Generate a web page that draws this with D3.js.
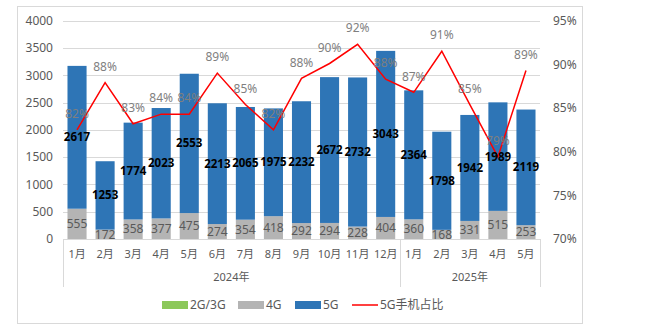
<!DOCTYPE html>
<html><head><meta charset="utf-8">
<script src="https://cdn.jsdelivr.net/npm/d3@7"></script>
<style>
body{margin:0;background:#fff;}
text{font-family:"Noto Sans","Noto Sans CJK SC",sans-serif;}
</style>
</head><body>
<svg id="c" width="659" height="331"></svg>
<script>
const months = ["1月","2月","3月","4月","5月","6月","7月","8月","9月","10月","11月","12月","1月","2月","3月","4月","5月"];
const years = [{label:"2024年", start:0, end:12},{label:"2025年", start:12, end:17}];
const g23 = [0,0,0,0,0,0,0,0,0,0,0,0,0,0,0,0,0];
const g4 = [555,172,358,377,475,274,354,418,292,294,228,404,360,168,331,515,253];
const g5 = [2617,1253,1774,2023,2553,2213,2065,1975,2232,2672,2732,3043,2364,1798,1942,1989,2119];
const share = [82.5,87.9,83.2,84.3,84.3,89.0,85.4,82.5,88.4,90.1,92.3,88.3,86.8,91.5,85.4,79.4,89.3];
const shareLabels = ["82%","88%","83%","84%","84%","89%","85%","82%","88%","90%","92%","88%","87%","91%","85%","79%","89%"];
const leftTicks = [0,500,1000,1500,2000,2500,3000,3500,4000];
const rightTicks = [70,75,80,85,90,95];
const legendItems = ["2G/3G","4G","5G","5G手机占比"];

const colors = {g23:"#8CC85A", g4:"#B4B4B4", g5:"#2E75B6", line:"#FF0000"};
const svg = d3.select("#c");
const L = 63, R = 540, T = 20.7, B = 239;

svg.append("rect").attr("x",17.5).attr("y",6.5).attr("width",565).attr("height",317)
  .attr("fill","#fff").attr("stroke","#d9d9d9");

const x = d3.scaleBand().domain(d3.range(months.length)).range([L,R]).paddingInner(0.32).paddingOuter(0.16);
const y = d3.scaleLinear().domain([0,4000]).range([B,T]);
const y2 = d3.scaleLinear().domain([70,95]).range([B,T]);

// gridlines
svg.append("g").selectAll("line").data(leftTicks.slice(1)).join("line")
  .attr("x1",L).attr("x2",R).attr("y1",d=>Math.round(y(d))+0.5).attr("y2",d=>Math.round(y(d))+0.5)
  .attr("stroke","#d9d9d9").attr("stroke-width",1);

// left axis
const ay = d3.axisLeft(y).tickValues(leftTicks).tickSize(0).tickPadding(10).tickFormat(d3.format("d"));
const gl = svg.append("g").attr("transform",`translate(${L},0)`).call(ay);
gl.select(".domain").remove();
gl.selectAll("text").attr("font-size",12).attr("fill","#595959").attr("font-family",'"Noto Sans",sans-serif');

// right axis
const ay2 = d3.axisRight(y2).tickValues(rightTicks).tickSize(0).tickPadding(13).tickFormat(d=>d+"%");
const gr = svg.append("g").attr("transform",`translate(${R},0)`).call(ay2);
gr.select(".domain").remove();
gr.selectAll("text").attr("font-size",12).attr("fill","#595959").attr("font-family",'"Noto Sans",sans-serif');

// stacked bars
const idx = d3.range(months.length);
const bars = svg.append("g");
idx.forEach(i=>{
  const b0 = 0, b1 = g23[i], b2 = b1 + g4[i], b3 = b2 + g5[i];
  bars.append("rect").attr("x",x(i)).attr("width",x.bandwidth()).attr("y",y(b1)).attr("height",y(b0)-y(b1)).attr("fill",colors.g23);
  bars.append("rect").attr("x",x(i)).attr("width",x.bandwidth()).attr("y",y(b2)).attr("height",y(b1)-y(b2)).attr("fill",colors.g4);
  bars.append("rect").attr("x",x(i)).attr("width",x.bandwidth()).attr("y",y(b3)).attr("height",y(b2)-y(b3)).attr("fill",colors.g5);
});

// x axis line & separators
const ax = svg.append("g");
ax.append("line").attr("x1",L).attr("x2",R).attr("y1",B+0.5).attr("y2",B+0.5).attr("stroke","#d9d9d9");
const step = x.step();
const sepX = [0,12,17].map(k=> L + k*step);
sepX.forEach(sx=>{
  ax.append("line").attr("x1",Math.round(sx)+0.5).attr("x2",Math.round(sx)+0.5).attr("y1",B).attr("y2",287).attr("stroke","#d9d9d9");
});
ax.selectAll("text.m").data(idx).join("text").attr("class","m")
  .attr("x",i=>x(i)+x.bandwidth()/2).attr("y",258).attr("text-anchor","middle")
  .attr("font-size",11).attr("fill","#595959").text(i=>months[i]);
ax.selectAll("text.yr").data(years).join("text").attr("class","yr")
  .attr("x",d=>L+(d.start+d.end)/2*step).attr("y",281).attr("text-anchor","middle")
  .attr("font-size",11).attr("fill","#595959").text(d=>d.label);

// line
const line = d3.line().x((d,i)=>x(i)+x.bandwidth()/2).y(d=>y2(d));
svg.append("path").datum(share).attr("d",line).attr("fill","none").attr("stroke",colors.line).attr("stroke-width",1.5);

// labels
const lab = svg.append("g");
idx.forEach(i=>{
  const cx = x(i)+x.bandwidth()/2;
  const b1 = g23[i], b2 = b1+g4[i], b3 = b2+g5[i];
  lab.append("text").attr("x",cx).attr("y",(y(b1)+y(b2))/2).attr("dy","0.35em").attr("text-anchor","middle")
    .attr("font-size",12).attr("fill","#595959").text(g4[i]);
  lab.append("text").attr("x",cx).attr("y",(y(b2)+y(b3))/2).attr("dy","0.35em").attr("text-anchor","middle")
    .attr("font-size",11.5).attr("font-weight","bold").attr("fill","#000").text(g5[i]);
  lab.append("text").attr("x",cx).attr("y",y2(share[i])-16).attr("dy","0.35em").attr("text-anchor","middle")
    .attr("font-size",12).attr("fill","#7f7f7f").text(shareLabels[i]);
});

// legend
const lg = svg.append("g");
const lx = [162,238,295,352];
const lc = [colors.g23,colors.g4,colors.g5];
legendItems.forEach((t,i)=>{
  if(i<3){
    lg.append("rect").attr("x",lx[i]).attr("y",301).attr("width",26).attr("height",8).attr("fill",lc[i]);
  } else {
    lg.append("line").attr("x1",lx[i]).attr("x2",lx[i]+26).attr("y1",305).attr("y2",305).attr("stroke",colors.line).attr("stroke-width",1.5);
  }
  lg.append("text").attr("x",lx[i]+28).attr("y",305).attr("dy","0.35em").attr("font-size",12).attr("fill","#595959").text(t);
});
</script>
</body></html>
